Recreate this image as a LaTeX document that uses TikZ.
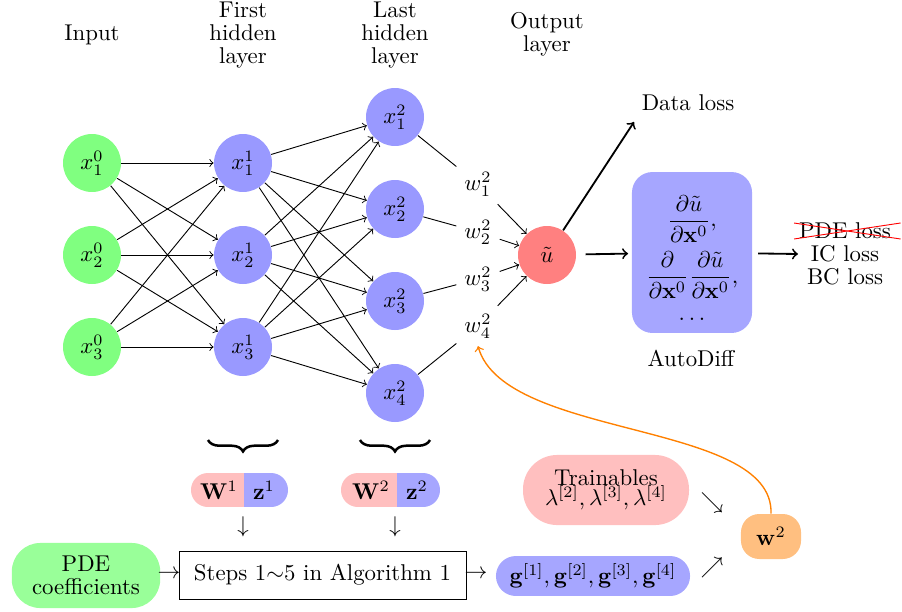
\documentclass[tikz,border=0pt]{standalone}
\usepackage{amsmath}
\usetikzlibrary{shapes.misc,decorations.pathreplacing}
\begin{document}
\begin{tikzpicture}[x=0.438pt,y=-0.438pt,
  neuron/.style={circle,minimum size=25.4pt,inner sep=0pt},
  inp/.style={neuron,fill=green!50},
  hid/.style={neuron,fill=blue!40},
  outn/.style={neuron,fill=red!50},
  lbl/.style={align=center,font=\fontsize{10pt}{10pt}\selectfont},
  pill/.style={rectangle,align=center,inner sep=1pt},
  conn/.style={->},
  bigarrow/.style={->,thick},
  brc/.style={decorate,decoration={brace,amplitude=5pt},line width=1.1pt}
]
\useasboundingbox (0,0) rectangle (902,611);

% layer labels
\node[lbl] (Lin) at (92,35) {Input};
\node[lbl] (Lh1) at (243,35) {First\\hidden\\layer};
\node[lbl] (Lh2) at (395,35) {Last\\hidden\\layer};
\node[lbl] (Lout) at (547,34) {Output\\layer};

% input layer
\node[inp] (i1) at (92,163) {$x_1^0$};
\node[inp] (i2) at (92,255) {$x_2^0$};
\node[inp] (i3) at (92,347) {$x_3^0$};
% first hidden
\node[hid] (a1) at (243,163) {$x_1^1$};
\node[hid] (a2) at (243,255) {$x_2^1$};
\node[hid] (a3) at (243,347) {$x_3^1$};
% last hidden
\node[hid] (b1) at (395,117) {$x_1^2$};
\node[hid] (b2) at (395,209) {$x_2^2$};
\node[hid] (b3) at (395,301) {$x_3^2$};
\node[hid] (b4) at (395,393) {$x_4^2$};
% weights
\node (w1) at (478,184) {$w_1^2$};
\node (w2) at (478,232) {$w_2^2$};
\node (w3) at (478,279) {$w_3^2$};
\node (w4) at (478,326) {$w_4^2$};
% output
\node[outn] (u) at (547,255) {$\tilde{u}$};

\foreach \s in {1,2,3}{
  \foreach \t in {1,2,3}{
    \draw[conn] (i\s) -- (a\t);
  }
  \foreach \t in {1,2,3,4}{
    \draw[conn] (a\s) -- (b\t);
  }
}
\foreach \s in {1,2,3,4}{
  \draw (b\s) -- (w\s);
  \draw[conn] (w\s) -- (u);
}

% data loss
\node (dl) at (688,103) {Data loss};
\coordinate (dlend) at (634,122);
\draw[bigarrow] (u) -- (dlend);

% AutoDiff box
\node[fill=blue!35,rounded corners=9pt,minimum width=52.6pt,minimum height=70.5pt,inner sep=0pt] (ad) at (692,252.5) {};
\node[inner sep=0pt] (adt) at (692,262)
  {$\begin{gathered}
   \dfrac{\partial\tilde{u}}{\partial\mathbf{x}^0},\\[0pt]
   \dfrac{\partial}{\partial\mathbf{x}^0}\dfrac{\partial\tilde{u}}{\partial\mathbf{x}^0},\\[-3pt]
   \dots\end{gathered}$};
\node (adl) at (691,358) {AutoDiff};
\draw[bigarrow,shorten <=4pt,shorten >=1.5pt] (u) -- (ad);

% losses
\node[inner sep=1pt] (pde) at (845,231) {PDE loss};
\node[inner sep=1pt] (ic) at (845,254) {IC loss};
\node[inner sep=1pt] (bc) at (845,277) {BC loss};
\draw[red] ([xshift=-1pt,yshift=3.5pt]pde.west) -- ([xshift=3pt,yshift=-3.5pt]pde.east);
\draw[red] ([xshift=-1pt,yshift=-3.5pt]pde.west) -- ([xshift=3pt,yshift=3.5pt]pde.east);
\coordinate (lossin) at (798,254);
\draw[bigarrow,shorten <=2.5pt] (ad) -- (lossin);

% braces
\draw[brc] (278,440) -- (208,440);
\draw[brc] (430,440) -- (360,440);

% W z pills
\begin{scope}
  \clip[rounded corners=7.4pt] (191,473) rectangle (288,507);
  \fill[red!25] (191,473) rectangle (244,507);
  \fill[blue!35] (244,473) rectangle (288,507);
\end{scope}
\begin{scope}
  \clip[rounded corners=7.4pt] (341,473) rectangle (440,507);
  \fill[red!25] (341,473) rectangle (397,507);
  \fill[blue!35] (397,473) rectangle (440,507);
\end{scope}
\node (W1) at (219,490) {$\mathbf{W}^1$};
\node (z1) at (264,490) {$\mathbf{z}^1$};
\node (W2) at (371,490) {$\mathbf{W}^2$};
\node (z2) at (417,490) {$\mathbf{z}^2$};
\node (d1) at (243,527) {$\downarrow$};
\node (d2) at (395,527) {$\downarrow$};

% bottom row
\node[pill,fill=green!40,rounded corners=12.5pt,minimum width=65pt,minimum height=28.5pt,font=\fontsize{10pt}{10pt}\selectfont] (pdec) at (86,575.5) {PDE\\coefficients};
\node (r1) at (169,574) {$\rightarrow$};
\node[draw,minimum width=125.7pt,minimum height=21pt] (steps) at (322.5,575) {Steps 1$\sim$5 in Algorithm 1};
\node (r2) at (476,574) {$\rightarrow$};
\node[pill,fill=blue!35,rounded corners=8.7pt,minimum width=85pt,minimum height=17.5pt] (g) at (593,576) {$\mathbf{g}^{[1]},\mathbf{g}^{[2]},\mathbf{g}^{[3]},\mathbf{g}^{[4]}$};
\node[pill,fill=red!25,rounded corners=15pt,minimum width=72.7pt,minimum height=30.7pt,font=\fontsize{10pt}{9pt}\selectfont] (tr) at (606,490) {Trainables\\$\lambda^{[2]},\lambda^{[3]},\lambda^{[4]}$};
\node (se) at (712,503) {$\searrow$};
\node (ne) at (712,568) {$\nearrow$};
\node[fill=orange!50,rounded corners=8pt,minimum width=26.3pt,minimum height=19.7pt] (w2n) at (771,536.5) {$\mathbf{w}^2$};
\draw[->,orange,semithick] (w2n.north) .. controls (774,420) and (505,440) .. (w4.south);
\end{tikzpicture}
\end{document}
